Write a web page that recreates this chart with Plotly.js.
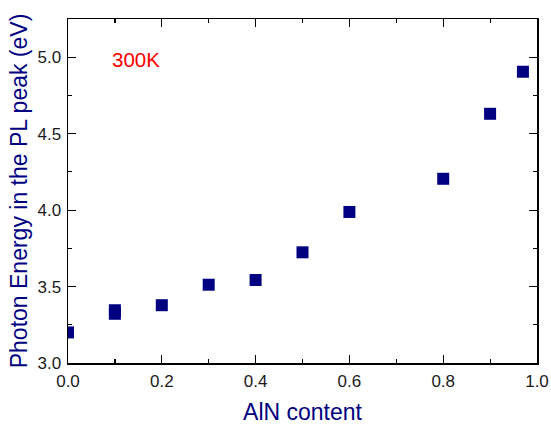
<!DOCTYPE html>
<html>
<head>
<meta charset="utf-8">
<script src="https://cdn.plot.ly/plotly-3.0.1.min.js"></script>
<style>
  html, body { margin: 0; padding: 0; background: #fff; }
  #chart { width: 551px; height: 425px; }
</style>
</head>
<body>
<div id="chart"></div>
<script>
// AlN content of each sample and the photon energy of its PL peak (eV), 300 K
const alnContent = [0.0, 0.1, 0.1, 0.2, 0.3, 0.4, 0.5, 0.6, 0.8, 0.9, 0.97];
const peakEnergy = [3.20, 3.345, 3.322, 3.378, 3.512, 3.543, 3.724, 3.988, 4.205, 4.630, 4.905];

const xTickVals = [0.0, 0.2, 0.4, 0.6, 0.8, 1.0];
const xTickText = ['0.0', '0.2', '0.4', '0.6', '0.8', '1.0'];
const yTickVals = [3.0, 3.5, 4.0, 4.5, 5.0];
const yTickText = ['3.0', '3.5', '4.0', '4.5', '5.0'];

const navy = '#000080';
const font = 'Arial, "Liberation Sans", sans-serif';

const trace = {
  x: alnContent,
  y: peakEnergy,
  type: 'scatter',
  mode: 'markers',
  cliponaxis: true,
  marker: { symbol: 'square', size: 12, color: navy, line: { width: 0 } }
};

const axisCommon = {
  showgrid: false,
  zeroline: false,
  showline: true,
  linecolor: '#000',
  linewidth: 1.5,
  mirror: 'ticks',
  ticks: 'inside',
  ticklen: 8,
  tickwidth: 1.2,
  tickcolor: '#000',
  tickmode: 'array',
  tickfont: { family: font, size: 17, color: '#1a1a1a' }
};

const layout = {
  width: 551,
  height: 425,
  margin: { l: 68, r: 14, t: 19, b: 62 },
  paper_bgcolor: '#fff',
  plot_bgcolor: '#fff',
  showlegend: false,
  xaxis: Object.assign({}, axisCommon, {
    range: [0, 1.0],
    tickvals: xTickVals,
    ticktext: xTickText,
    ticklabelstandoff: 2,
    minor: { dtick: 0.1, ticks: 'inside', ticklen: 4, tickwidth: 1.2, tickcolor: '#000' },
    title: { text: 'AlN content', font: { family: font, size: 23, color: navy }, standoff: 16 }
  }),
  yaxis: Object.assign({}, axisCommon, {
    range: [3.0, 5.25],
    tickvals: yTickVals,
    ticktext: yTickText,
    ticklabelstandoff: 2,
    minor: { dtick: 0.25, tick0: 3.0, ticks: 'inside', ticklen: 4, tickwidth: 1.2, tickcolor: '#000' },
    title: { text: 'Photon Energy in the PL peak (eV)', font: { family: font, size: 23, color: navy }, standoff: 3 }
  }),
  annotations: [{
    x: 0.145, y: 4.985, xref: 'x', yref: 'y',
    text: '300K', showarrow: false,
    font: { family: font, size: 20.5, color: '#ff0000' }
  }]
};

Plotly.newPlot('chart', [trace], layout, { displayModeBar: false, staticPlot: true });
</script>
</body>
</html>
